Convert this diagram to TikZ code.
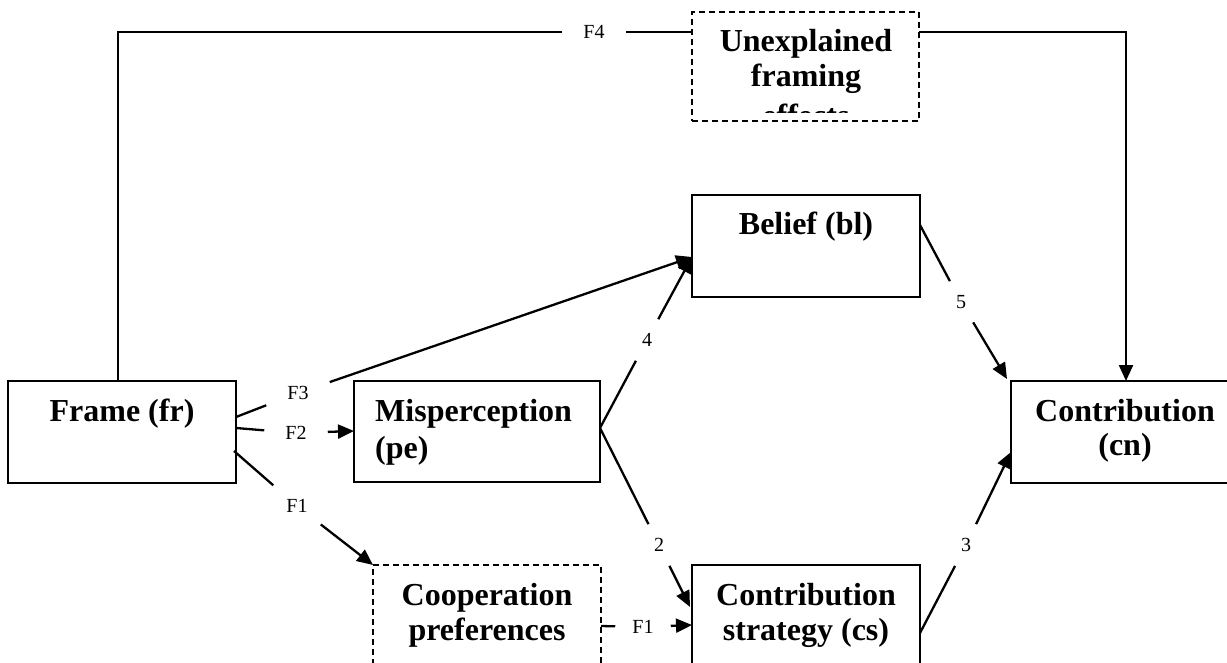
\documentclass[tikz,border=0pt]{standalone}
\usepackage{fontspec}
\setmainfont{Liberation Serif}
\usetikzlibrary{arrows.meta,calc}
\begin{document}
\begin{tikzpicture}[x=1pt,y=-1pt,
  box/.style={draw, line width=2.3pt, rectangle, inner sep=0pt, outer sep=0pt, anchor=north west},
  dbox/.style={box, dash pattern=on 6pt off 4pt},
  big/.style={font=\fontsize{32}{36}\selectfont\bfseries, anchor=base, inner sep=0pt},
  bigw/.style={big, anchor=base west},
  lab/.style={font=\fontsize{20}{22}\selectfont, inner ysep=8pt, inner xsep=21pt},
  labd/.style={font=\fontsize{20}{22}\selectfont, inner ysep=14pt, inner xsep=7pt},
  labf/.style={font=\fontsize{20}{22}\selectfont, inner ysep=15pt, inner xsep=13pt},
  conn/.style={line width=2.3pt},
  arr/.style={conn, -{Triangle[length=16pt,width=14pt]}}
]
\useasboundingbox (0,0) rectangle (1227,663);
\clip (0,0) rectangle (1227,663);

% boxes
\node[box, minimum width=228pt, minimum height=102pt] (fr) at (8,381) {};
\node[box, minimum width=246pt, minimum height=101pt] (pe) at (354,381) {};
\node[box, minimum width=228pt, minimum height=102pt] (bl) at (692,195) {};
\node[box, minimum width=240pt, minimum height=102pt] (cn) at (1011,381) {};
\node[box, minimum width=228pt, minimum height=120pt] (cs) at (692,565) {};
\node[dbox, minimum width=228pt, minimum height=120pt] (cp) at (373,565) {};
\node[dbox, minimum width=227pt, minimum height=109pt] (ue) at (692,12) {};

% texts
\node[big] (tfr) at (122,421) {Frame (fr)};
\node[bigw] (tpe1) at (375,421) {Misperception};
\node[bigw] (tpe2) at (375,458) {(pe)};
\node[big] (tbl) at (806,235) {Belief (bl)};
\node[big] (tcn1) at (1125,421) {Contribution};
\node[big] (tcn2) at (1125,455) {(cn)};
\node[big] (tcp1) at (487,605) {Cooperation};
\node[big] (tcp2) at (487,640) {preferences};
\node[big] (tcs1) at (806,605) {Contribution};
\node[big] (tcs2) at (806,640) {strategy (cs)};
\begin{scope}
  \clip (692,12) rectangle (919,113);
  \node[big] (tue1) at (806,52) {Unexplained};
  \node[big] (tue2) at (806,87) {framing};
  \node[big] (tue3) at (806,127) {effects};
\end{scope}

% labels
\node[lab] (lF4) at (594,32) {F4};
\node[lab] (lF3) at (298,393) {F3};
\node[lab] (lF2) at (296,433) {F2};
\node[labf] (lF1) at (297,506) {F1};
\node[lab, inner xsep=17pt] (lF1b) at (643,627) {F1};
\node[labd] (l4) at (647,340) {4};
\node[labd] (l2) at (659,545) {2};
\node[labd] (l3) at (966,545) {3};
\node[labd] (l5) at (961,302) {5};

% anchor points
\coordinate (frtop) at ($(fr.north west)+(110,0)$);
\coordinate (frF3) at ($(fr.north east)+(0,36)$);
\coordinate (frF2) at ($(fr.north east)+(0,47)$);
\coordinate (frF1) at ($(fr.north east)+(-2,70)$);
\coordinate (peout) at ($(pe.north east)+(0,47)$);
\coordinate (peF2) at ($(pe.north west)+(0,50)$);
\coordinate (blin) at ($(bl.north west)+(0,62)$);
\coordinate (blout) at ($(bl.north east)+(0,30)$);
\coordinate (cnF4) at ($(cn.north west)+(115,0)$);
\coordinate (cn5) at ($(cn.north west)+(-4,-2)$);
\coordinate (cn3) at ($(cn.north west)+(0,71)$);
\coordinate (cs2) at ($(cs.north west)+(-2,42)$);
\coordinate (csF1) at ($(cs.north west)+(0,60)$);
\coordinate (csout) at ($(cs.north east)+(0,68)$);
\coordinate (cpout) at ($(cp.north east)+(0,61)$);

% connectors
\draw[conn] (frtop) |- (lF4.west);
\draw[conn] (lF4.east) -- (ue.west |- lF4);
\draw[arr] (ue.east |- lF4) -| (cnF4);

\draw[conn] (frF3) -- (lF3);
\draw[arr] (lF3) -- (blin);
\draw[conn] (frF2) -- (lF2);
\draw[arr] (lF2) -- (peF2);
\draw[conn] (frF1) -- (lF1);
\draw[arr] (lF1) -- (cp.north west);
\draw[conn] (cpout) -- (lF1b);
\draw[arr] (lF1b) -- (csF1);

\draw[conn] (peout) -- (l4);
\draw[arr] (l4) -- (blin);
\draw[conn] (peout) -- (l2);
\draw[arr] (l2) -- (cs2);
\draw[conn] (blout) -- (l5);
\draw[arr] (l5) -- (cn5);
\draw[conn] (csout) -- (l3);
\draw[arr] (l3) -- (cn3);
\end{tikzpicture}
\end{document}
